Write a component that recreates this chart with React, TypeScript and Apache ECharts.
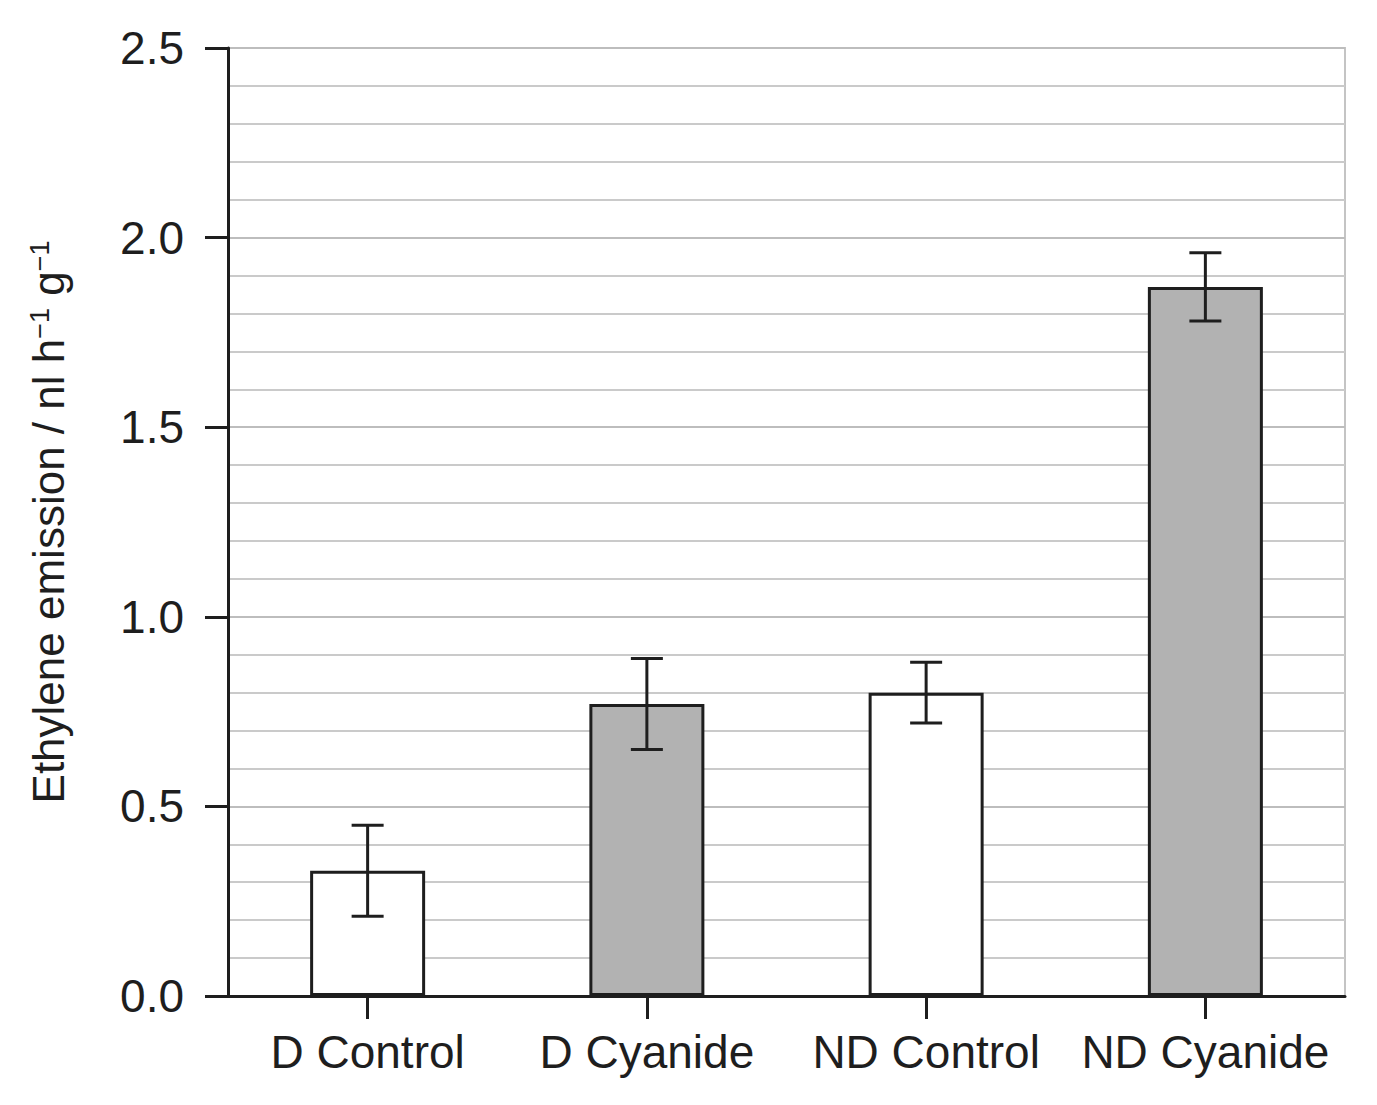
import React, { useEffect, useRef } from "react";
import * as echarts from "echarts";

// Treatment groups and measured ethylene emission (mean ± error)
const categories = ["D Control", "D Cyanide", "ND Control", "ND Cyanide"];
const means = [0.33, 0.77, 0.8, 1.87];
const errors = [0.12, 0.12, 0.08, 0.09];
const barFills = ["#ffffff", "#b2b2b2", "#ffffff", "#b2b2b2"];
const yTicks = [0, 0.5, 1.0, 1.5, 2.0, 2.5];

const FONT = "'Liberation Sans', Arial, Helvetica, sans-serif";
const INK = "#1e1e1e";

export default function App() {
  const ref = useRef<HTMLDivElement>(null);

  useEffect(() => {
    document.body.style.margin = "0";
    if (!ref.current) return;
    const chart = echarts.init(ref.current, undefined, { renderer: "svg" });

    const errorData = categories.map((_, i) => [
      i,
      means[i] - errors[i],
      means[i] + errors[i],
    ]);

    chart.setOption({
      animation: false,
      backgroundColor: "#ffffff",
      textStyle: { fontFamily: FONT },
      grid: {
        left: 228,
        right: 32,
        top: 48,
        bottom: 109,
        show: true,
        borderColor: "#c4c4c4",
        borderWidth: 2,
        backgroundColor: "transparent",
      },
      xAxis: {
        type: "category",
        data: categories,
        boundaryGap: true,
        axisLine: { show: true, lineStyle: { color: INK, width: 3 } },
        axisTick: {
          show: true,
          alignWithLabel: true,
          length: 23,
          lineStyle: { color: INK, width: 3 },
        },
        axisLabel: {
          color: INK,
          fontSize: 46,
          fontFamily: FONT,
          margin: 33,
          interval: 0,
        },
        splitLine: { show: false },
      },
      yAxis: {
        type: "value",
        min: yTicks[0],
        max: yTicks[yTicks.length - 1],
        interval: 0.5,
        name: "{a|Ethylene emission / nl h}{s|−1}{a| g}{s|−1}",
        nameLocation: "middle",
        nameRotate: 90,
        nameGap: 158,
        nameTextStyle: {
          rich: {
            a: { fontSize: 44, color: INK, fontFamily: FONT },
            s: {
              fontSize: 27,
              color: INK,
              fontFamily: FONT,
              verticalAlign: "top",
            },
          },
        },
        axisLine: { show: true, lineStyle: { color: INK, width: 3 } },
        axisTick: {
          show: true,
          length: 23,
          lineStyle: { color: INK, width: 3 },
        },
        axisLabel: {
          color: INK,
          fontSize: 46,
          fontFamily: FONT,
          margin: 44,
          formatter: (v: number) => v.toFixed(1),
        },
        splitLine: { show: true, lineStyle: { color: "#bdbdbd", width: 2 } },
        minorTick: { show: false, splitNumber: 5 },
        minorSplitLine: {
          show: true,
          lineStyle: { color: "#cacaca", width: 2 },
        },
      },
      series: [
        {
          type: "bar",
          barWidth: 115,
          data: means.map((v, i) => ({
            value: v,
            itemStyle: {
              color: barFills[i],
              borderColor: INK,
              borderWidth: 3,
            },
          })),
          z: 3,
        },
        {
          type: "custom",
          z: 4,
          data: errorData,
          renderItem: (_params: any, api: any) => {
            const x = api.value(0);
            const lo = api.coord([x, api.value(1)]);
            const hi = api.coord([x, api.value(2)]);
            const half = 16;
            const style = { stroke: INK, lineWidth: 3 };
            return {
              type: "group",
              children: [
                {
                  type: "line",
                  shape: { x1: hi[0], y1: hi[1], x2: lo[0], y2: lo[1] },
                  style,
                },
                {
                  type: "line",
                  shape: { x1: hi[0] - half, y1: hi[1], x2: hi[0] + half, y2: hi[1] },
                  style,
                },
                {
                  type: "line",
                  shape: { x1: lo[0] - half, y1: lo[1], x2: lo[0] + half, y2: lo[1] },
                  style,
                },
              ],
            };
          },
        },
      ],
    });

    return () => chart.dispose();
  }, []);

  return <div ref={ref} style={{ width: 1377, height: 1105 }} />;
}
